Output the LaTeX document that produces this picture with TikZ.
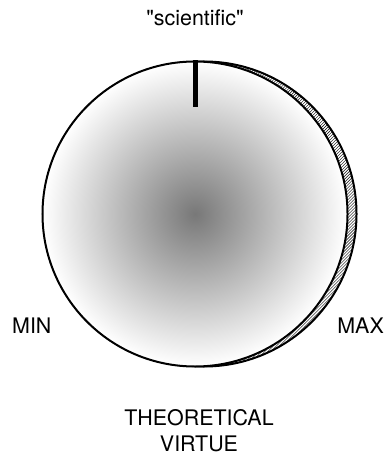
\documentclass[tikz,border=0pt]{standalone}
\usepackage{fontspec}
\setmainfont{TeX Gyre Heros}
\usetikzlibrary{patterns}
\begin{document}
\begin{tikzpicture}[x=1bp,y=-1bp,
  labeltext/.style={font=\fontsize{21.5pt}{25pt}\selectfont, inner sep=0pt},
  rimstyle/.style={circle, minimum size=305bp, inner sep=0pt, draw=black, line width=2bp, pattern=north east lines},
  dialstyle/.style={circle, minimum size=305bp, inner sep=0pt, draw=black, line width=2bp, inner color=black!53, outer color=white},
  tickstyle/.style={line width=5bp, line cap=butt}]
\useasboundingbox (0,0) rectangle (385,455);
\node[rimstyle] (rim) at (204,214) {};
\node[dialstyle] (dial) at (195,214) {};
\coordinate (tickend) at (195,107);
\draw[tickstyle] (dial.north) -- (tickend);
\node[labeltext, anchor=base] (sci) at (195,26) {\textquotedbl scientific\textquotedbl};
\node[labeltext, anchor=base west] (min) at (12,333) {MIN};
\node[labeltext, anchor=base east] (max) at (384,333) {MAX};
\node[labeltext, anchor=base] (theo) at (199,425) {THEORETICAL};
\node[labeltext, anchor=base] (virt) at (199,451) {VIRTUE};
\end{tikzpicture}
\end{document}
